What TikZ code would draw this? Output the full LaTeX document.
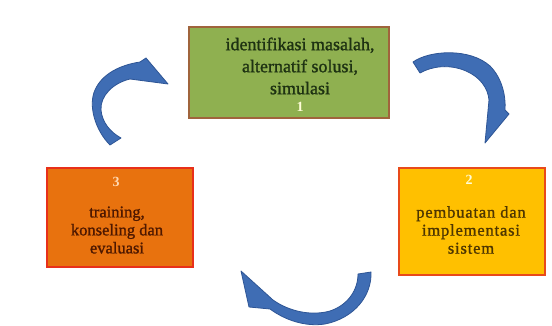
\documentclass[tikz,border=0pt]{standalone}
\usepackage{fontspec}
\setmainfont{Liberation Serif}
\definecolor{gfill}{HTML}{8FB050}
\definecolor{gdraw}{HTML}{A0643C}
\definecolor{ofill}{HTML}{E8720E}
\definecolor{odraw}{HTML}{E8301A}
\definecolor{yfill}{HTML}{FFC000}
\definecolor{ydraw}{HTML}{E84A1A}
\definecolor{afill}{HTML}{3F6DB4}
\definecolor{adraw}{HTML}{2E5595}
\definecolor{gtext}{HTML}{1E3212}
\definecolor{otext}{HTML}{4E1800}
\definecolor{ytext}{HTML}{4E3600}
\tikzset{
  stepbox/.style={draw, line width=2.5pt, inner sep=0pt},
  arrowshape/.style={fill=afill, draw=adraw, line width=0.8pt, line join=round},
  boxtext/.style={align=center, inner sep=0pt, font=\fontsize{16.5}{18}\selectfont\addfontfeature{FakeBold=1.2}},
  numtext/.style={inner sep=0pt, font=\fontsize{14}{16}\selectfont\bfseries},
}
\begin{document}
\begin{tikzpicture}[x=1pt,y=-1pt]
\useasboundingbox[fill=white] (0,0) rectangle (552,326);
% boxes
\node[stepbox, fill=gfill, draw=gdraw, minimum width=200pt, minimum height=91pt] (b1) at (289,72.5) {};
\node[stepbox, fill=ofill, draw=odraw, minimum width=146pt, minimum height=99pt] (b3) at (120,217.5) {};
\node[stepbox, fill=yfill, draw=ydraw, minimum width=146pt, minimum height=107pt] (b2) at (472,221.5) {};
% texts
\node[boxtext, text=gtext, font=\fontsize{18}{22}\selectfont\addfontfeature{FakeBold=1.2}] (t1) at (300,66) {identifikasi masalah,\\alternatif solusi,\\simulasi};
\node[numtext, text=yellow!15] (n1) at (300,107) {1};
\node[numtext, text=orange!30] (n3) at (116,182) {3};
\node[boxtext, text=otext] (t3) at (117,230) {training,\\konseling dan\\evaluasi};
\node[numtext, text=yellow!15] (n2) at (469,180) {2};
\node[boxtext, text=ytext, font=\fontsize{16.5}{18}\selectfont\addfontfeature{LetterSpace=5,FakeBold=1.2}] (t2) at (471,230) {pembuatan dan\\implementasi\\sistem};
% curved arrows
\path[arrowshape] (110,145) .. controls (95,130) and (88,105) .. (95,90)
  .. controls (102,74) and (120,65) .. (140,62) -- (146,58) -- (168,84) -- (130,79)
  .. controls (113,83) and (100,96) .. (101,110)
  .. controls (102,122) and (110,132) .. (121,138) -- cycle;
\path[arrowshape] (413,62) .. controls (430,50) and (470,48) .. (490,66)
  .. controls (502,78) and (506,96) .. (505,110) -- (509,114) -- (485,143) -- (489,100)
  .. controls (488,88) and (480,77) .. (466,71)
  .. controls (450,64) and (432,66) .. (420,73) -- cycle;
\path[arrowshape] (358,274) -- (371,272) .. controls (372,295) and (355,318) .. (325,324)
  .. controls (305,327) and (285,320) .. (270,309) -- (249,307) -- (241,271) -- (273,300)
  .. controls (290,312) and (312,316) .. (330,311)
  .. controls (348,305) and (358,290) .. (358,274) -- cycle;
\end{tikzpicture}
\end{document}
